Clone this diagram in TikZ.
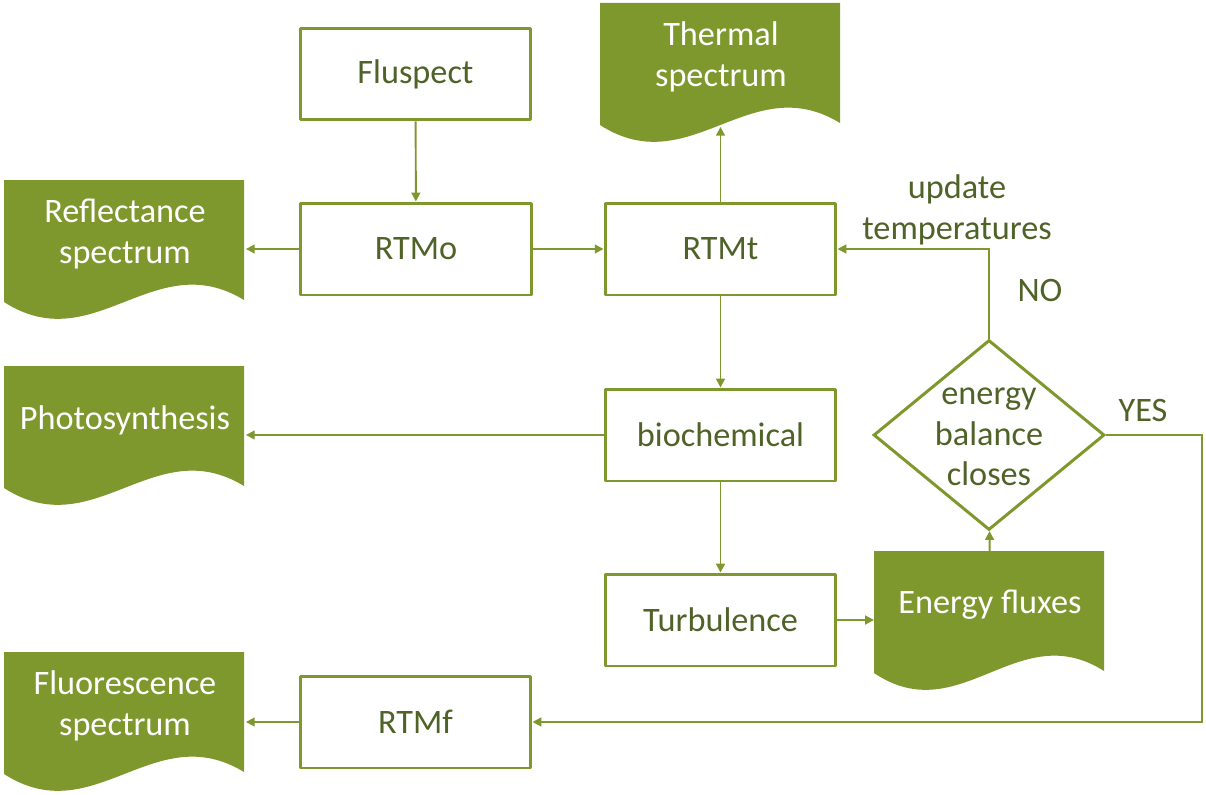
\documentclass[tikz,border=0pt]{standalone}
\usepackage{fontspec}
\setmainfont{Carlito}
\usepackage{tikz}
\usetikzlibrary{arrows.meta,calc,shapes.geometric}

\definecolor{olivefill}{HTML}{7F982E}
\definecolor{olivetext}{HTML}{4F6228}
\newcommand{\flowfont}{\fontsize{19.5}{23}\selectfont}

% output block with wavy bottom: name, left, top, width, text
\newcommand{\docblock}[5]{%
  \fill[olivefill, shift={(#2,#3)}] (0,0) -- (#4,0) -- (#4,120)
    .. controls (0.625*#4,65) and (0.375*#4,180) .. (0,122) -- cycle;
  \node[docarea, minimum width={#4*0.02cm}, anchor=north west] (#1) at (#2,#3) {};
  \node[doctext] (#1-txt) at ($(#1.north)+(0,54)$) {#5};
}

\begin{document}
\begin{tikzpicture}[
    x=0.02cm, y=-0.02cm,
    >={Triangle[length=5pt,width=5pt]},
    block/.style={draw=olivefill, line width=1.7pt, line join=round,
      minimum width=4.62cm, minimum height=1.84cm, text=olivetext,
      font=\flowfont},
    docarea/.style={inner sep=0pt, minimum height=2.44cm},
    doctext/.style={text=white, align=center, font=\flowfont},
    decision/.style={diamond, draw=olivefill, line width=1.7pt,
      minimum width=4.62cm, minimum height=3.8cm, inner sep=0pt},
    annot/.style={text=olivetext, align=center, font=\flowfont},
    every path/.style={line width=1.1pt},
  ]
  \useasboundingbox (0,0) rectangle (1206,794);

  % model blocks
  \node[block] (fluspect) at (415.5,74) {Fluspect};
  \node[block] (rtmo) at (416,249) {RTMo};
  \node[block] (rtmt) at (720.5,249) {RTMt};
  \node[block] (biochem) at (720.5,435) {biochemical};
  \node[block] (turb) at (720.5,620) {Turbulence};
  \node[block] (rtmf) at (415.5,722) {RTMf};

  % outputs
  \docblock{refl}{4}{180}{240}{Reflectance\\spectrum}
  \docblock{thermal}{600}{3}{240}{Thermal\\spectrum}
  \docblock{photo}{4}{366}{240}{Photosynthesis}
  \docblock{efl}{874}{551}{230}{Energy fluxes}
  \docblock{fluor}{4}{652}{240}{Fluorescence\\spectrum}

  % energy balance check
  \node[decision] (dec) at (989,435) {};
  \node[annot] (dec-txt) at (989,437) {energy\\balance\\closes};
  \coordinate (yesturn) at (1202,435);

  % labels
  \node[annot] (upd) at (957,210) {update\\temperatures};
  \node[annot] (no) at (1040,290) {NO};
  \node[annot] (yes) at (1143,410) {YES};

  % edges
  \begin{scope}[draw=olivefill]
    \draw[->] (fluspect) -- (rtmo);
    \draw[->] (rtmo) -- (rtmo -| refl.east);
    \draw[->] (rtmo) -- (rtmt);
    \draw[->] (rtmt) -- (rtmt |- thermal.south);
    \draw[->] (rtmt) -- (biochem);
    \draw[->] (biochem) -- (biochem -| photo.east);
    \draw[->] (biochem) -- (turb);
    \draw[->] (turb) -- (turb -| efl.west);
    \draw[->] (efl) -- (dec);
    \draw[->] (dec) |- (rtmt);
    \draw[->] (dec) -- (yesturn) |- (rtmf);
    \draw[->] (rtmf) -- (rtmf -| fluor.east);
  \end{scope}
\end{tikzpicture}
\end{document}
